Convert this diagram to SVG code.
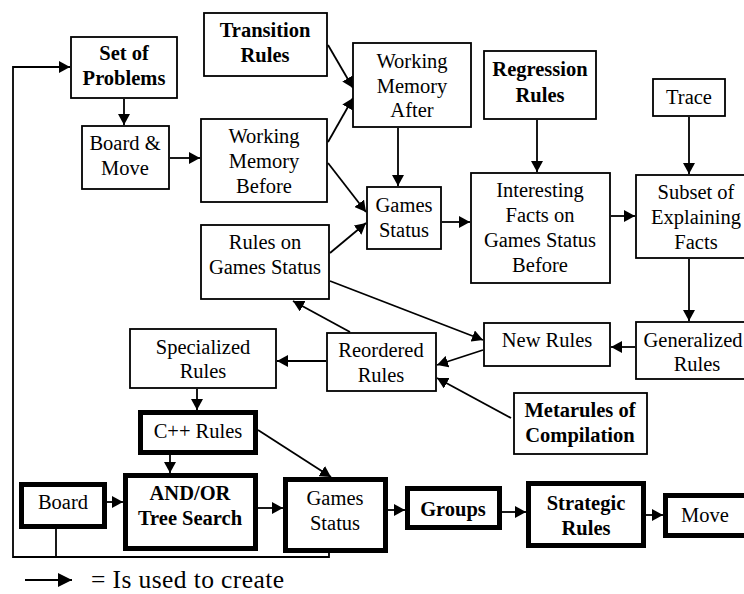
<svg xmlns="http://www.w3.org/2000/svg" width="744" height="594" viewBox="0 0 744 594">
<defs>
<marker id="ah" markerUnits="userSpaceOnUse" markerWidth="12" markerHeight="12" refX="11" refY="6" orient="auto">
<path d="M0,0 L11,6 L0,12 z" fill="#000"/>
</marker>
<marker id="ahL" markerUnits="userSpaceOnUse" markerWidth="15" markerHeight="14" refX="14" refY="7" orient="auto">
<path d="M0,0 L14,7 L0,14 z" fill="#000"/>
</marker>
<style>
rect{fill:#fff;stroke:#000;stroke-width:1.8}
rect.k{stroke-width:5}
text{font-family:"Liberation Serif","Times New Roman",serif;font-size:20.5px;fill:#000;text-anchor:middle}
text.b{font-weight:bold}
.c path{fill:none;stroke:#000;stroke-width:1.8}
.c path.a{marker-end:url(#ah)}
</style>
</defs>
<rect x="0" y="0" width="744" height="594" style="fill:#fff;stroke:none"/>

<g class="c" id="connectors">
<path d="M329,553 V557 H13 V67 H70" class="a"/>
<path d="M56,529 V557"/>
<path d="M124,99 V125" class="a"/>
<path d="M170,158 H200" class="a"/>
<path d="M328,45 L353,88" class="a"/>
<path d="M328,142 L353,98" class="a"/>
<path d="M328,163 L366,212" class="a"/>
<path d="M398,128 V186" class="a"/>
<path d="M330,253 L366,223" class="a"/>
<path d="M442,222 H470" class="a"/>
<path d="M537,120 V172" class="a"/>
<path d="M611,216 H635" class="a"/>
<path d="M689,117 V174" class="a"/>
<path d="M689,259 V321" class="a"/>
<path d="M635,347 H611" class="a"/>
<path d="M330,281 L483,340" class="a"/>
<path d="M483,350 L437,365" class="a"/>
<path d="M511,418 L437,378" class="a"/>
<path d="M350,332 L293,301" class="a"/>
<path d="M326,361 H277" class="a"/>
<path d="M197,389 V410" class="a"/>
<path d="M170,455 V473" class="a"/>
<path d="M258,430 L331,477" class="a"/>
<path d="M107,502 H123" class="a"/>
<path d="M258,508 H283" class="a"/>
<path d="M388,510 H405" class="a"/>
<path d="M502,512 H526" class="a"/>
<path d="M646,515 H663" class="a"/>
<path d="M25,580 H72" style="marker-end:url(#ahL)"/>
</g>

<g id="set-of-problems"><rect x="71" y="37" width="106" height="61"/><text class="b" x="124" y="60">Set of</text><text class="b" x="124" y="85">Problems</text></g>
<g id="transition-rules"><rect x="204" y="13" width="123" height="63"/><text class="b" x="265" y="37">Transition</text><text class="b" x="265" y="62">Rules</text></g>
<g id="board-move"><rect x="82" y="126" width="87" height="63"/><text x="125" y="150">Board &amp;</text><text x="125" y="175">Move</text></g>
<g id="wm-before"><rect x="201" y="119" width="126" height="83"/><text x="264" y="143">Working</text><text x="264" y="168">Memory</text><text x="264" y="193">Before</text></g>
<g id="wm-after"><rect x="353" y="43" width="118" height="84"/><text x="412" y="68">Working</text><text x="412" y="93">Memory</text><text x="412" y="117">After</text></g>
<g id="regression-rules"><rect x="484" y="51" width="112" height="68"/><text class="b" x="540" y="76">Regression</text><text class="b" x="540" y="102">Rules</text></g>
<g id="trace"><rect x="653" y="79" width="72" height="37"/><text x="689" y="104">Trace</text></g>
<g id="games-status"><rect x="367" y="187" width="74" height="62"/><text x="404" y="212">Games</text><text x="404" y="237">Status</text></g>
<g id="interesting-facts"><rect x="471" y="173" width="139" height="110"/><text x="540" y="197">Interesting</text><text x="540" y="222">Facts on</text><text x="540" y="247">Games Status</text><text x="540" y="272">Before</text></g>
<g id="subset"><rect x="636" y="175" width="130" height="83"/><text x="696" y="199">Subset of</text><text x="696" y="224">Explaining</text><text x="696" y="249">Facts</text></g>
<g id="generalized-rules"><rect x="636" y="322" width="130" height="57"/><text x="693" y="347">Generalized</text><text x="697" y="371">Rules</text></g>
<g id="new-rules"><rect x="484" y="323" width="126" height="43"/><text x="547" y="347">New Rules</text></g>
<g id="rules-on-games-status"><rect x="201" y="225" width="128" height="74"/><text x="265" y="249">Rules on</text><text x="265" y="274">Games Status</text></g>
<g id="reordered-rules"><rect x="327" y="333" width="109" height="58"/><text x="381" y="357">Reordered</text><text x="381" y="382">Rules</text></g>
<g id="specialized-rules"><rect x="130" y="329" width="146" height="59"/><text x="203" y="354">Specialized</text><text x="203" y="378">Rules</text></g>
<g id="metarules"><rect x="514" y="393" width="133" height="61"/><text class="b" x="580" y="417">Metarules of</text><text class="b" x="580" y="442">Compilation</text></g>
<g id="cpp-rules"><rect class="k" x="140.5" y="412.5" width="115" height="40"/><text x="198" y="438">C++ Rules</text></g>
<g id="board"><rect class="k" x="21.5" y="484.5" width="83" height="42"/><text x="63" y="509">Board</text></g>
<g id="and-or"><rect class="k" x="125.5" y="475.5" width="130" height="73"/><text class="b" x="190" y="500">AND/OR</text><text class="b" x="190" y="525">Tree Search</text></g>
<g id="games-status-2"><rect class="k" x="285.5" y="479.5" width="100" height="71"/><text x="335" y="505">Games</text><text x="335" y="530">Status</text></g>
<g id="groups"><rect class="k" x="407.5" y="488.5" width="92" height="39"/><text class="b" x="453" y="516">Groups</text></g>
<g id="strategic-rules"><rect class="k" x="528.5" y="483.5" width="115" height="62"/><text class="b" x="586" y="510">Strategic</text><text class="b" x="586" y="535">Rules</text></g>
<g id="move"><rect class="k" x="665.5" y="495.5" width="100" height="40"/><text x="705" y="522">Move</text></g>

<g id="legend"><text x="91" y="588" style="text-anchor:start;font-size:25.5px" textLength="193" lengthAdjust="spacing">= Is used to create</text></g>
</svg>
